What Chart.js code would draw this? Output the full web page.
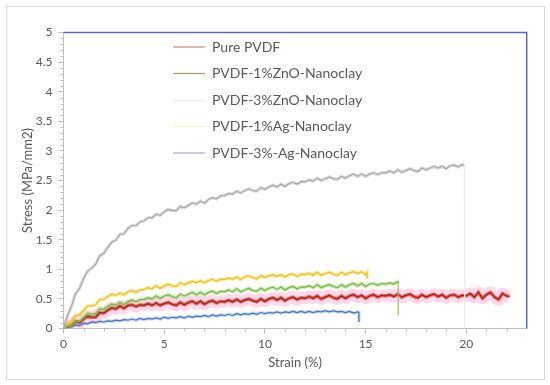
<!DOCTYPE html>
<html><head><meta charset="utf-8">
<script src="https://cdn.jsdelivr.net/npm/chart.js@4.4.1/dist/chart.umd.min.js"></script>
<style>html,body{margin:0;padding:0;background:#fff}</style>
</head><body>
<canvas id="c" width="550" height="385"></canvas>
<script>
// ---- data ----
const STRAIN_STEP = 0.2; // sampling step of the stress arrays (strain %)
const seriesNames = ["Pure PVDF","PVDF-1%ZnO-Nanoclay","PVDF-3%ZnO-Nanoclay","PVDF-1%Ag-Nanoclay","PVDF-3%-Ag-Nanoclay"];
const xTickValues = [0,5,10,15,20];
const yTickStep = 0.5;

const purePVDF = [
 0,0.05,0.05,0.12,0.10,0.16,0.21,0.19,0.19,0.27,
 0.26,0.31,0.35,0.33,0.38,0.34,0.39,0.40,0.37,0.40,
 0.39,0.42,0.39,0.43,0.39,0.42,0.44,0.41,0.39,0.44,
 0.40,0.44,0.46,0.42,0.46,0.41,0.45,0.47,0.43,0.46,
 0.45,0.48,0.45,0.49,0.45,0.48,0.50,0.47,0.45,0.50,
 0.46,0.50,0.52,0.48,0.52,0.47,0.51,0.53,0.49,0.52,
 0.51,0.54,0.51,0.55,0.50,0.53,0.56,0.52,0.50,0.55,
 0.51,0.55,0.57,0.53,0.56,0.51,0.55,0.57,0.53,0.56,
 0.55,0.57,0.54,0.58,0.53,0.56,0.58,0.54,0.52,0.57,
 0.53,0.56,0.58,0.54,0.57,0.52,0.56,0.57,0.53,0.56,
 0.55,0.59,0.53,0.61,0.51,0.57,0.61,0.53,0.49,0.59,0.55];
const purePVDFEnd = [[22.15,0.54]];

const znO1 = [
 0,0.05,0.05,0.13,0.12,0.19,0.25,0.24,0.25,0.33,
 0.32,0.37,0.41,0.39,0.44,0.40,0.45,0.48,0.45,0.49,
 0.49,0.52,0.50,0.55,0.51,0.55,0.57,0.54,0.52,0.58,
 0.55,0.58,0.61,0.57,0.61,0.57,0.61,0.63,0.59,0.63,
 0.62,0.65,0.62,0.67,0.62,0.65,0.68,0.64,0.63,0.68,
 0.64,0.68,0.70,0.66,0.70,0.65,0.69,0.71,0.67,0.70,
 0.70,0.72,0.69,0.74,0.69,0.72,0.74,0.71,0.69,0.74,
 0.70,0.74,0.76,0.72,0.76,0.71,0.75,0.76,0.73,0.76,
 0.75,0.77,0.75,0.79];
const znO1End = [[16.62,0.76],[16.62,0.22]];

const znO3 = [
 0,0.22,0.38,0.59,0.68,0.85,0.97,1.02,1.09,1.23,
 1.27,1.37,1.46,1.49,1.59,1.60,1.69,1.74,1.74,1.80,
 1.82,1.87,1.87,1.93,1.91,1.97,2.01,1.99,1.99,2.06,
 2.04,2.08,2.12,2.10,2.15,2.12,2.18,2.21,2.19,2.24,
 2.25,2.28,2.27,2.32,2.29,2.33,2.36,2.33,2.32,2.38,
 2.35,2.39,2.42,2.39,2.44,2.40,2.45,2.47,2.44,2.48,
 2.48,2.51,2.49,2.54,2.50,2.53,2.56,2.53,2.52,2.57,
 2.54,2.58,2.61,2.57,2.61,2.57,2.61,2.63,2.60,2.63,
 2.63,2.66,2.63,2.68,2.64,2.67,2.70,2.67,2.65,2.71,
 2.68,2.71,2.74,2.71,2.74,2.70,2.75,2.76,2.73,2.77];
const znO3End = [[19.9,2.75],[19.92,0]];

const ag1 = [
 0,0.08,0.12,0.22,0.23,0.31,0.38,0.38,0.40,0.49,
 0.49,0.54,0.58,0.56,0.60,0.57,0.62,0.64,0.61,0.65,
 0.66,0.69,0.67,0.72,0.68,0.72,0.75,0.72,0.71,0.77,
 0.74,0.77,0.80,0.77,0.81,0.77,0.81,0.83,0.80,0.83,
 0.83,0.85,0.83,0.87,0.83,0.87,0.89,0.86,0.84,0.89,
 0.86,0.89,0.91,0.88,0.91,0.87,0.91,0.92,0.88,0.92,
 0.91,0.93,0.90,0.95,0.90,0.93,0.95,0.92,0.90,0.95,
 0.91,0.94,0.96,0.93,0.96,0.91];
const ag1End = [[15.07,0.94],[15.07,0.85]];

const ag3 = [
 0,0.02,0.03,0.06,0.05,0.09,0.08,0.11,0.10,0.12,
 0.11,0.13,0.12,0.14,0.13,0.15,0.14,0.16,0.14,0.17,
 0.15,0.17,0.16,0.18,0.16,0.19,0.17,0.19,0.18,0.20,
 0.18,0.21,0.19,0.21,0.20,0.22,0.20,0.23,0.21,0.23,
 0.22,0.24,0.22,0.25,0.23,0.25,0.24,0.26,0.24,0.27,
 0.25,0.27,0.26,0.28,0.26,0.28,0.27,0.29,0.27,0.29,
 0.27,0.29,0.27,0.29,0.28,0.30,0.28,0.30,0.28,0.29,
 0.27,0.29,0.26,0.28];
const ag3End = [[14.67,0.27],[14.67,0.11]];

// ---- styles ----
const lineColors = ["#8f2a10","#76bb40","#a6a6a6","#f2bf10","#4472c4"];
const fuzzColors = ["rgba(228,20,20,0.6)","rgba(120,190,60,0.4)","rgba(166,166,166,0.35)","rgba(245,195,20,0.4)","rgba(68,114,196,0.25)"];
const dropColors = [null,"#a7b860","#ececec","#f2bf10","#4472c4"];
const legendColors = ["#c99684","#aaa468","#ececec","#f4efc4","#9fb4e4"];
const FONT = "Lato, 'Open Sans', sans-serif";
const TEXT = "#595959";
const AXIS = "#bfbfbf";

function pts(vals, tail){
  return vals.map((v,i)=>({x:+(i*STRAIN_STEP).toFixed(2), y:v}))
             .concat(tail.map(p=>({x:p[0], y:p[1]})));
}
function isDrop(c){ return c.p0.parsed.y - c.p1.parsed.y > 0.3; }
function pair(idx, data, order){
  const main = {label:seriesNames[idx], data, borderColor:lineColors[idx], borderWidth:1.2,
    pointRadius:0, tension:0, order,
    segment:{borderColor:c => isDrop(c) ? dropColors[idx] : undefined}};
  const fuzz = {label:"", data, borderColor:fuzzColors[idx], borderWidth:3.5,
    pointRadius:0, tension:0, order:order+1,
    segment:{borderColor:c => isDrop(c) ? "rgba(0,0,0,0)" : undefined}};
  return [fuzz, main];
}

const datasets = [
  {label:"", data:pts(purePVDF,purePVDFEnd), borderColor:"rgba(255,185,215,0.55)", borderWidth:12, pointRadius:0, order:30, tension:0.4},
  ...pair(4, pts(ag3,ag3End), 20),
  ...pair(0, pts(purePVDF,purePVDFEnd), 16),
  ...pair(1, pts(znO1,znO1End), 12),
  ...pair(3, pts(ag1,ag1End), 8),
  ...pair(2, pts(znO3,znO3End), 4),
];

const decor = {
  id:"decor",
  beforeDraw(chart){
    const ctx = chart.ctx;
    ctx.save();
    ctx.fillStyle = "#fff";
    ctx.fillRect(0,0,chart.width,chart.height);
    ctx.strokeStyle = "#d9d9d9"; ctx.lineWidth = 1;
    ctx.strokeRect(6.5,6.5,538,373);
    ctx.restore();
  },
  afterDraw(chart){
    const ctx = chart.ctx, a = chart.chartArea;
    const xs = chart.scales.x, ys = chart.scales.y;
    ctx.save();
    ctx.strokeStyle = AXIS; ctx.lineWidth = 1;
    ctx.beginPath();
    for (let v=1; v<23; v++){ if (v%5===0) continue;
      const px = Math.round(xs.getPixelForValue(v))+0.5;
      ctx.moveTo(px, a.bottom); ctx.lineTo(px, a.bottom+3); }
    for (let k=1; k<50; k++){ if (k%5===0) continue;
      const py = Math.round(ys.getPixelForValue(k/10))+0.5;
      ctx.moveTo(a.left-3, py); ctx.lineTo(a.left, py); }
    ctx.stroke();
    ctx.strokeStyle = "#5566c4"; ctx.lineWidth = 1.5;
    ctx.beginPath();
    ctx.moveTo(a.left, a.top); ctx.lineTo(a.right, a.top); ctx.lineTo(a.right, a.bottom);
    ctx.stroke();
    const rowsY = [47,73.5,100.5,126.5,153];
    ctx.font = "14px " + FONT;
    ctx.textBaseline = "middle";
    seriesNames.forEach((n,i)=>{
      ctx.strokeStyle = legendColors[i]; ctx.lineWidth = 1.3;
      ctx.beginPath(); ctx.moveTo(173, rowsY[i]); ctx.lineTo(205, rowsY[i]); ctx.stroke();
      ctx.fillStyle = TEXT;
      ctx.fillText(n, 212, rowsY[i]);
    });
    ctx.restore();
  }
};

new Chart(document.getElementById("c"), {
  type:"line",
  data:{datasets},
  plugins:[decor],
  options:{
    responsive:false, animation:false, devicePixelRatio:1,
    layout:{padding:{left:0, top:32.5, right:23.3, bottom:0}},
    plugins:{legend:{display:false}, tooltip:{enabled:false}},
    scales:{
      x:{type:"linear", min:0, max:23,
        afterBuildTicks:s=>{ s.ticks = xTickValues.map(v=>({value:v})); },
        afterFit:s=>{ s.height = 56.5; },
        ticks:{color:TEXT, font:{family:FONT, size:12}, padding:3, maxRotation:0},
        grid:{drawOnChartArea:false, drawTicks:true, tickLength:5, color:AXIS},
        border:{color:AXIS, width:1},
        title:{display:true, text:"Strain (%)", color:TEXT, font:{family:FONT, size:13}, padding:{top:0,bottom:14}}
      },
      y:{type:"linear", min:0, max:5,
        afterFit:s=>{ s.width = 63.5; },
        ticks:{stepSize:yTickStep, color:TEXT, font:{family:FONT, size:12}, padding:6,
          callback:v=>String(+Number(v).toFixed(1))},
        grid:{drawOnChartArea:false, drawTicks:true, tickLength:5, color:AXIS},
        border:{color:AXIS, width:1},
        title:{display:true, text:"Stress (MPa/mm2)", color:TEXT, font:{family:FONT, size:13}, padding:{top:20,bottom:0}}
      }
    }
  }
});
</script>
</body></html>
